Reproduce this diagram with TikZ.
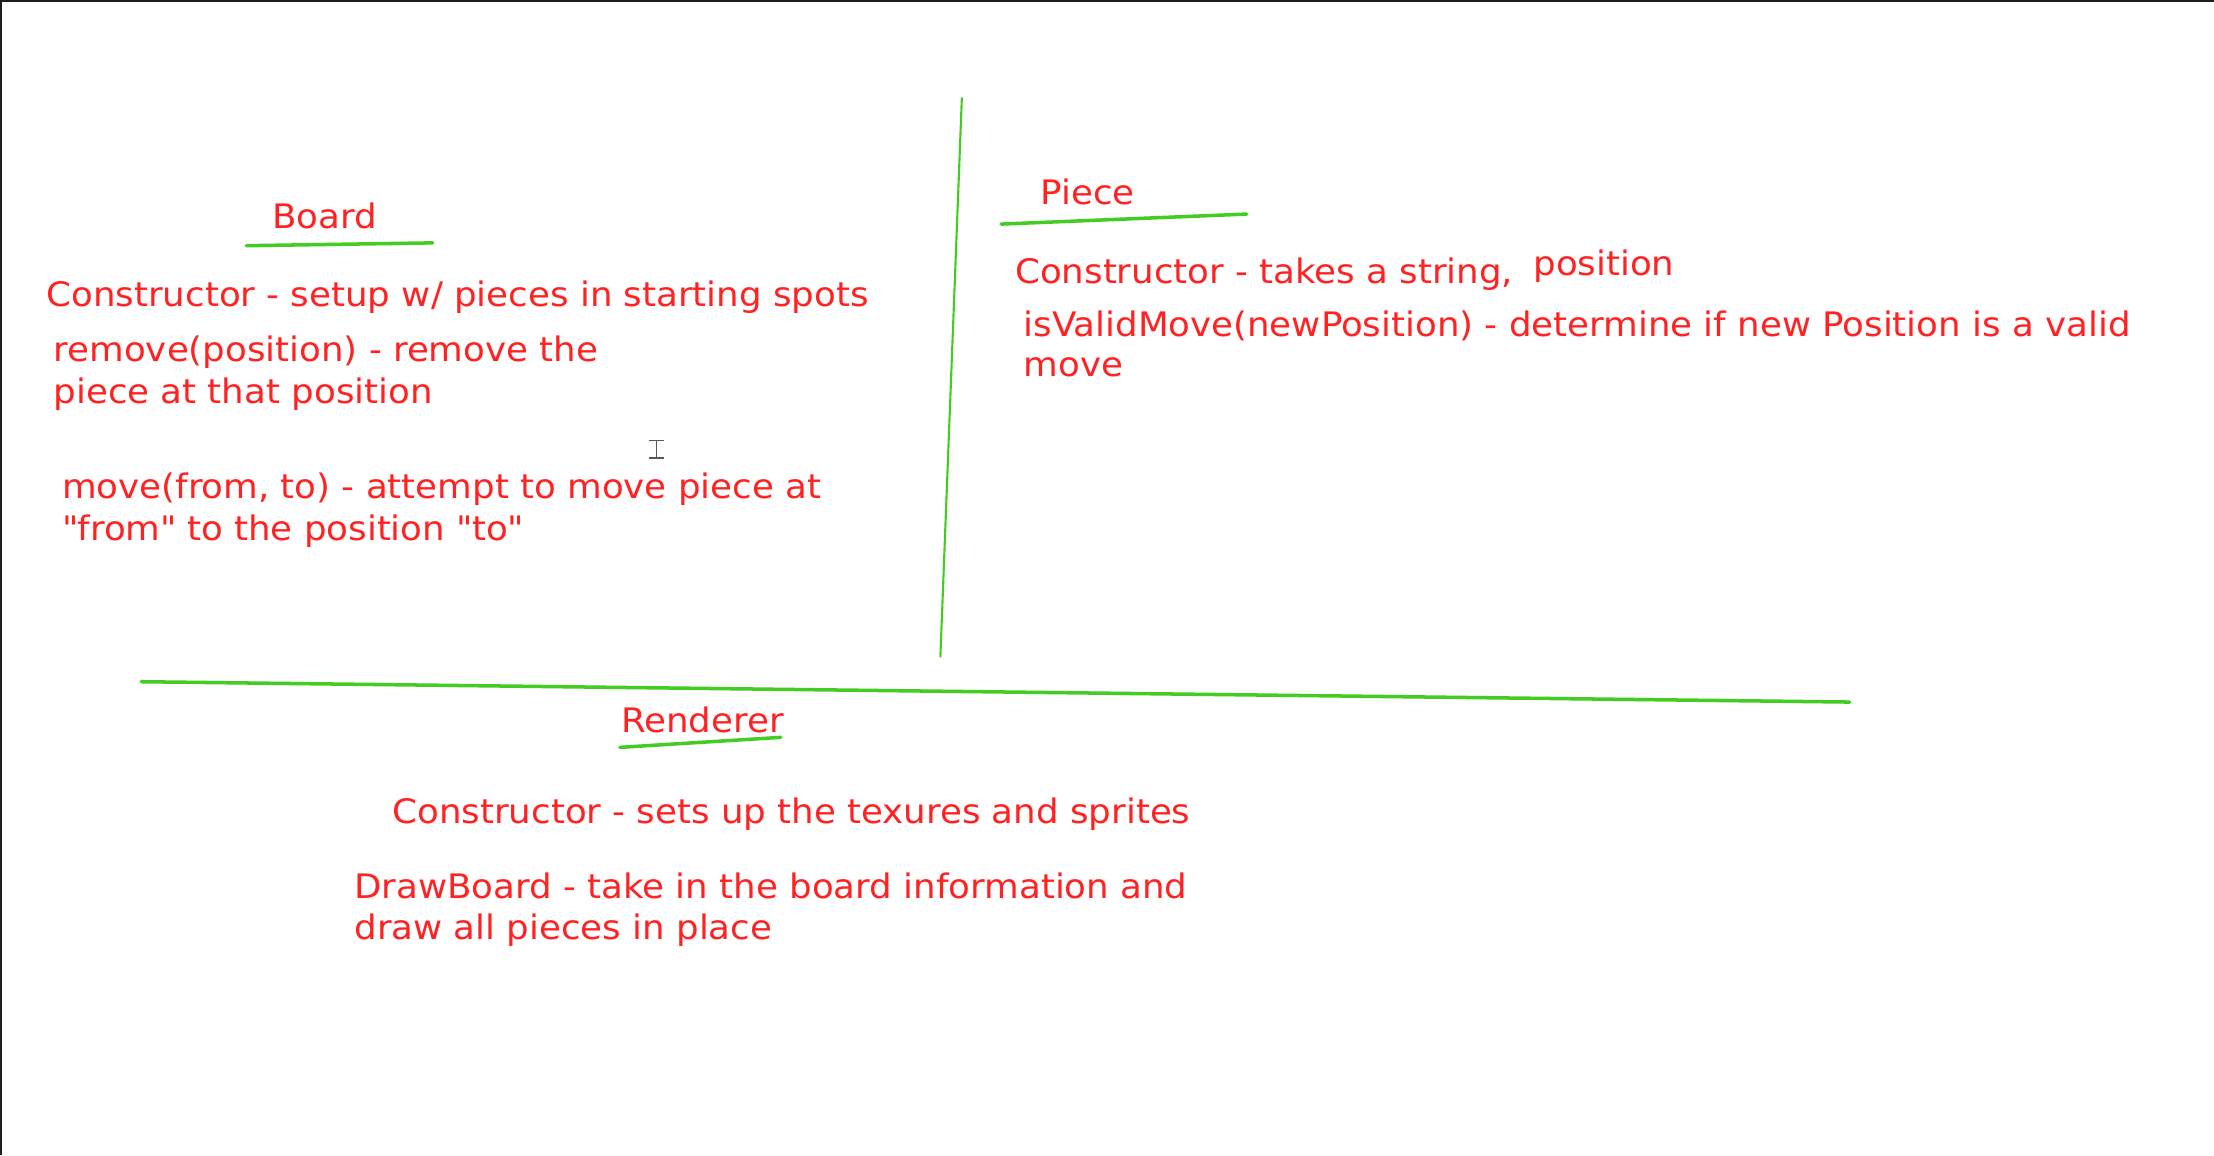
\documentclass[tikz,border=0pt]{standalone}
\usepackage{fontspec}
\setmainfont{DejaVu Sans}[FakeStretch=1.055]
\definecolor{inkred}{HTML}{FF2222}
\definecolor{inkgreen}{HTML}{44CC22}
\definecolor{frame}{HTML}{1E1E1E}
\begin{document}
\begin{tikzpicture}[x=0.01412cm,y=-0.01412cm,
  txt/.style={anchor=base west,inner sep=0pt,outer sep=0pt,text=inkred,font=\fontsize{9.6}{12}\selectfont},
  pen/.style={draw=inkgreen,line width=1pt,line cap=round},
  thinpen/.style={draw=inkgreen,line width=0.6pt,line cap=round}]
\useasboundingbox (0,0) rectangle (1568,818);
\fill[white] (0,0) rectangle (1568,818);
\fill[frame] (0,0) rectangle (1568,1.6);
\fill[frame] (0,0) rectangle (1.1,818);
% dividers
\coordinate (vtop) at (681.2,69.5);
\coordinate (vbot) at (666,465);
\draw[thinpen] (vtop) -- (vbot);
\coordinate (hl) at (100,482.8);
\coordinate (hr) at (1310,497.2);
\draw[pen] (hl) -- (hr);
% Board
\node[txt] (board) at (193,161.5) {Board};
\coordinate (bu1) at (174.5,174);
\coordinate (bu2) at (306.5,172);
\draw[pen] (bu1) -- (bu2);
\node[txt] (bc) at (33,217) {Constructor - setup w/ pieces in starting spots};
\node[txt] (br1) at (38,256) {remove(position) - remove the};
\node[txt] (br2) at (38,285.5) {piece at that position};
\node[txt] (bm1) at (44,353.3) {move(from, to) - attempt to move piece at};
\node[txt] (bm2) at (44,382.5) {\textquotedbl from\textquotedbl{} to the position \textquotedbl to\textquotedbl};
% Piece
\node[txt] (piece) at (737,145) {Piece};
\coordinate (pu1) at (709,158.7);
\coordinate (pu2) at (883,151.6);
\draw[pen] (pu1) -- (pu2);
\node[txt] (pc) at (719,200.5) {Constructor - takes a string,};
\node[txt] (pcpos) at (1086,194.8) {position};
\node[txt] (pv1) at (725,238.4) {isValidMove(newPosition) - determine if new Position is a valid};
\node[txt] (pv2) at (725,266.8) {move};
% Renderer
\node[txt] (rend) at (440,518.9) {Renderer};
\coordinate (ru1) at (439,529.3);
\coordinate (ru2) at (553,522.2);
\draw[pen] (ru1) -- (ru2);
\node[txt] (rc) at (278,583) {Constructor - sets up the texures and sprites};
\node[txt] (rd1) at (251,636.2) {DrawBoard - take in the board information and};
\node[txt] (rd2) at (251,665.7) {draw all pieces in place};
% text cursor
\coordinate (ct) at (464.8,312);
\coordinate (cb) at (464.8,324.5);
\draw[draw=black!65,line width=0.45pt] (ct) -- (cb);
\draw[draw=black!65,line width=0.45pt] ([xshift=-2.2]ct) -- ([xshift=2.2]ct);
\draw[draw=black!65,line width=0.45pt] ([xshift=-2.2]cb) -- ([xshift=2.2]cb);
\end{tikzpicture}
\end{document}
